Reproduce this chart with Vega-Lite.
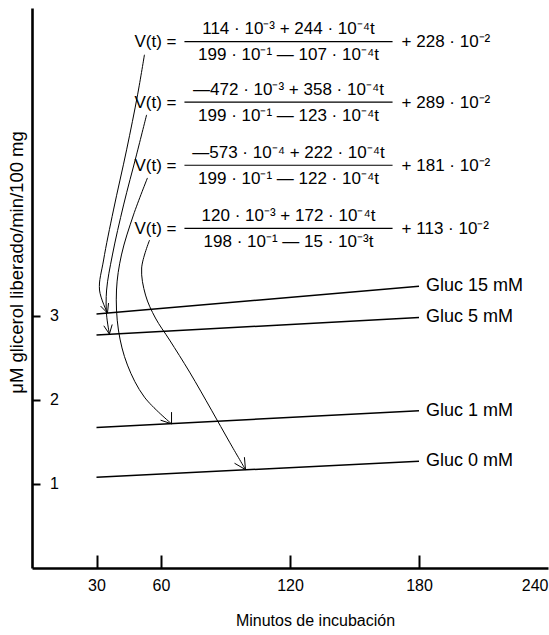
{
  "$schema": "https://vega.github.io/schema/vega-lite/v6.json",
  "width": 516,
  "height": 560,
  "autosize": "none",
  "padding": {"left": 32, "top": 8, "right": 1, "bottom": 67},
  "background": "white",
  "config": {
    "font": "Liberation Sans",
    "view": {"stroke": null},
    "axis": {"grid": false, "domainColor": "black", "tickColor": "black", "labelColor": "black", "titleColor": "black", "labelFont": "Liberation Sans", "titleFont": "Liberation Sans", "labelFontSize": 16, "titleFontSize": 16, "titleFontWeight": "normal"}
  },
  "datasets": {
    "gluc": [
      {"serie": "Gluc  15  mM", "t": 30, "v": 3.02},
      {"serie": "Gluc  15  mM", "t": 180, "v": 3.35},
      {"serie": "Gluc  5  mM", "t": 30, "v": 2.77},
      {"serie": "Gluc  5  mM", "t": 180, "v": 2.98},
      {"serie": "Gluc  1  mM", "t": 30, "v": 1.67},
      {"serie": "Gluc  1  mM", "t": 180, "v": 1.87},
      {"serie": "Gluc  0  mM", "t": 30, "v": 1.08},
      {"serie": "Gluc  0  mM", "t": 180, "v": 1.27}
    ],
    "curves": [
      {"c": "A", "i": 1, "t": 52.3, "v": 6.104},
      {"c": "A", "i": 2, "t": 49.1, "v": 5.627},
      {"c": "A", "i": 3, "t": 44.0, "v": 4.973},
      {"c": "A", "i": 4, "t": 37.9, "v": 4.258},
      {"c": "A", "i": 5, "t": 33.3, "v": 3.663},
      {"c": "A", "i": 6, "t": 31.4, "v": 3.306},
      {"c": "A", "i": 7, "t": 35.1, "v": 3.032},
      {"c": "B", "i": 1, "t": 53.3, "v": 5.389},
      {"c": "B", "i": 2, "t": 48.6, "v": 4.913},
      {"c": "B", "i": 3, "t": 42.6, "v": 4.318},
      {"c": "B", "i": 4, "t": 37.4, "v": 3.723},
      {"c": "B", "i": 5, "t": 34.7, "v": 3.306},
      {"c": "B", "i": 6, "t": 34.7, "v": 3.008},
      {"c": "B", "i": 7, "t": 36.0, "v": 2.782},
      {"c": "C", "i": 1, "t": 53.7, "v": 4.639},
      {"c": "C", "i": 2, "t": 47.2, "v": 4.199},
      {"c": "C", "i": 3, "t": 41.6, "v": 3.723},
      {"c": "C", "i": 4, "t": 39.3, "v": 3.306},
      {"c": "C", "i": 5, "t": 40.2, "v": 2.830},
      {"c": "C", "i": 6, "t": 44.4, "v": 2.413},
      {"c": "C", "i": 7, "t": 52.3, "v": 2.032},
      {"c": "C", "i": 8, "t": 64.9, "v": 1.715},
      {"c": "D", "i": 1, "t": 54.7, "v": 3.901},
      {"c": "D", "i": 2, "t": 51.0, "v": 3.568},
      {"c": "D", "i": 3, "t": 52.8, "v": 3.246},
      {"c": "D", "i": 4, "t": 57.4, "v": 2.973},
      {"c": "D", "i": 5, "t": 64.0, "v": 2.711},
      {"c": "D", "i": 6, "t": 73.3, "v": 2.330},
      {"c": "D", "i": 7, "t": 83.5, "v": 1.877},
      {"c": "D", "i": 8, "t": 91.9, "v": 1.496},
      {"c": "D", "i": 9, "t": 99.3, "v": 1.17}
    ],
    "heads": [
      {"h": "A", "i": 1, "t": 35.6, "v": 3.151},
      {"h": "A", "i": 2, "t": 35.1, "v": 3.032},
      {"h": "A", "i": 3, "t": 31.9, "v": 3.115},
      {"h": "B", "i": 1, "t": 37.3, "v": 2.896},
      {"h": "B", "i": 2, "t": 36.0, "v": 2.782},
      {"h": "B", "i": 3, "t": 33.4, "v": 2.881},
      {"h": "C", "i": 1, "t": 64.9, "v": 1.854},
      {"h": "C", "i": 2, "t": 64.9, "v": 1.715},
      {"h": "C", "i": 3, "t": 59.8, "v": 1.758},
      {"h": "D", "i": 1, "t": 98.8, "v": 1.318},
      {"h": "D", "i": 2, "t": 99.3, "v": 1.17},
      {"h": "D", "i": 3, "t": 94.2, "v": 1.246}
    ],
    "bars": [
      {"eq": 1, "t1": 70.9, "t2": 167.7, "v": 6.26},
      {"eq": 2, "t1": 70.9, "t2": 167.7, "v": 5.54},
      {"eq": 3, "t1": 70.9, "t2": 167.7, "v": 4.79},
      {"eq": 4, "t1": 70.9, "t2": 167.7, "v": 4.04}
    ],
    "fracs": [
      {"t": 119.3, "v": 6.41, "txt": "114 · 10⁻³  +  244 · 10⁻⁴t"},
      {"t": 119.3, "v": 6.10, "txt": "199 · 10⁻¹ — 107 · 10⁻⁴t"},
      {"t": 119.3, "v": 5.69, "txt": "—472 · 10⁻³  +  358 · 10⁻⁴t"},
      {"t": 119.3, "v": 5.38, "txt": "199 · 10⁻¹ — 123 · 10⁻⁴t"},
      {"t": 119.3, "v": 4.94, "txt": "—573 · 10⁻⁴  +  222 · 10⁻⁴t"},
      {"t": 119.3, "v": 4.63, "txt": "199 · 10⁻¹ — 122 · 10⁻⁴t"},
      {"t": 119.3, "v": 4.19, "txt": "120 · 10⁻³  +  172 · 10⁻⁴t"},
      {"t": 119.3, "v": 3.88, "txt": "198 · 10⁻¹ — 15 · 10⁻³t"}
    ],
    "lhs": [
      {"t": 67.2, "v": 6.25, "txt": "V(t) ="},
      {"t": 67.2, "v": 5.53, "txt": "V(t) ="},
      {"t": 67.2, "v": 4.78, "txt": "V(t) ="},
      {"t": 67.2, "v": 4.03, "txt": "V(t) ="}
    ],
    "rhs": [
      {"t": 171.9, "v": 6.25, "txt": "+ 228 · 10⁻²"},
      {"t": 171.9, "v": 5.53, "txt": "+ 289 · 10⁻²"},
      {"t": 171.9, "v": 4.78, "txt": "+ 181 · 10⁻²"},
      {"t": 171.9, "v": 4.03, "txt": "+ 113 · 10⁻²"}
    ]
  },
  "encoding": {
    "x": {"field": "t", "type": "quantitative", "scale": {"domain": [0, 240], "nice": false, "zero": false},
      "axis": {"title": "Minutos de incubación", "values": [30, 60, 120, 180, 240], "tickSize": -13, "tickWidth": 2, "domainWidth": 2.6, "labelBaseline": "top", "labelPadding": 22, "labelFlush": 2, "titleX": 283, "titleY": 52, "titleBaseline": "middle",
        "tickColor": {"condition": {"test": "datum.value == 240", "value": "white"}, "value": "black"}}},
    "y": {"field": "v", "type": "quantitative", "scale": {"domain": [0, 6.66], "nice": false, "zero": false},
      "axis": {"title": "μM  glicerol  liberado/min/100  mg", "titleFontSize": 18.5, "values": [1, 2, 3], "tickSize": -8, "tickWidth": 2, "tickColor": "black", "domainWidth": 2.6, "labelAlign": "left", "labelBaseline": "middle", "labelPadding": -9.5, "titleAngle": 270, "titleAlign": "center", "titleBaseline": "bottom", "titleX": -6, "titleY": 254}}
  },
  "layer": [
    {"data": {"name": "gluc"}, "mark": {"type": "line", "color": "black", "strokeWidth": 1.5}, "encoding": {"detail": {"field": "serie"}}},
    {"data": {"name": "gluc"}, "transform": [{"filter": "datum.t == 180"}], "mark": {"type": "text", "align": "left", "baseline": "middle", "dx": 7, "fontSize": 18, "color": "black"}, "encoding": {"text": {"field": "serie"}}},
    {"data": {"name": "curves"}, "mark": {"type": "line", "color": "black", "strokeWidth": 1, "interpolate": "catmull-rom"}, "encoding": {"detail": {"field": "c"}, "order": {"field": "i"}}},
    {"data": {"name": "heads"}, "mark": {"type": "line", "color": "black", "strokeWidth": 1}, "encoding": {"detail": {"field": "h"}, "order": {"field": "i"}}},
    {"data": {"name": "bars"}, "mark": {"type": "rule", "color": "black", "strokeWidth": 1.2}, "encoding": {"x": {"field": "t1", "type": "quantitative"}, "x2": {"field": "t2"}, "y": {"field": "v", "type": "quantitative"}}},
    {"data": {"name": "fracs"}, "mark": {"type": "text", "align": "center", "baseline": "middle", "fontSize": 17, "color": "black"}, "encoding": {"text": {"field": "txt"}}},
    {"data": {"name": "lhs"}, "mark": {"type": "text", "align": "right", "baseline": "middle", "fontSize": 17, "color": "black"}, "encoding": {"text": {"field": "txt"}}},
    {"data": {"name": "rhs"}, "mark": {"type": "text", "align": "left", "baseline": "middle", "fontSize": 17, "color": "black"}, "encoding": {"text": {"field": "txt"}}}
  ]
}
